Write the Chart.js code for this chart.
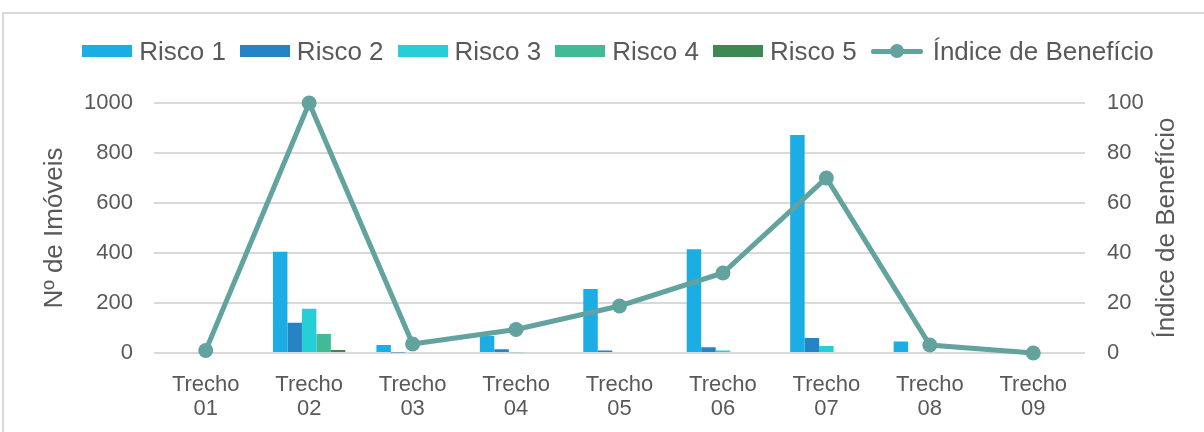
<!DOCTYPE html>
<html>
<head>
<meta charset="utf-8">
<script src="https://cdn.jsdelivr.net/npm/chart.js@4"></script>
<style>
  body { margin: 0; background: #fff; overflow: hidden; font-family: 'Liberation Sans', Arial, sans-serif; }
  #wrap { position: relative; width: 1204px; height: 432px; }
  #frame { position: absolute; left: 2px; top: 12px; width: 1300px; height: 500px; border-top: 2px solid #d9d9d9; border-left: 2px solid #d9d9d9; }
  #legend { position: absolute; left: 0; top: 35px; width: 1204px; display: flex; justify-content: center; padding-left: 32px; box-sizing: border-box; }
  .item { display: flex; align-items: center; margin: 0 7px; font-size: 26px; color: #595959; line-height: 32px; }
  .box { width: 50px; height: 12px; margin-right: 7px; }
  .lineSample { position: relative; width: 52px; height: 14px; margin-right: 10px; }
  .lineSample .l { position: absolute; left: 0; right: 0; top: 5px; height: 5px; border-radius: 2px; }
  .lineSample .p { position: absolute; left: 19px; top: 0; width: 14px; height: 14px; border-radius: 50%; }
  #chartBox { position: absolute; left: 0; top: 0; width: 1204px; height: 432px; }
</style>
</head>
<body>
<div id="wrap">
  <div id="frame"></div>
  <div id="chartBox"><canvas id="grafico"></canvas></div>
  <div id="legend"></div>
</div>
<script>
var trechos = [['Trecho', '01'], ['Trecho', '02'], ['Trecho', '03'], ['Trecho', '04'], ['Trecho', '05'],
  ['Trecho', '06'], ['Trecho', '07'], ['Trecho', '08'], ['Trecho', '09']];

// nº de imóveis por classe de risco
var risco1 = [0, 405, 32, 68, 256, 415, 872, 46, 0];
var risco2 = [0, 121, 2, 15, 10, 23, 60, 0, 0];
var risco3 = [0, 177, 0, 3, 0, 10, 28, 0, 0];
var risco4 = [0, 76, 0, 0, 0, 0, 0, 0, 0];
var risco5 = [0, 12, 0, 0, 0, 0, 0, 0, 0];

// índice de benefício (eixo da direita)
var indice = [1, 100, 3.6, 9.4, 18.8, 32, 70, 3.2, 0];

var ticksEsq = [0, 200, 400, 600, 800, 1000];
var ticksDir = [0, 20, 40, 60, 80, 100];

var cinza = '#595959';
var fonte = "'Liberation Sans', Arial, sans-serif";

function barras(label, data, cor) {
  return {
    type: 'bar',
    label: label,
    data: data,
    backgroundColor: cor,
    borderWidth: 0,
    yAxisID: 'y',
    order: 2,
  };
}

const data = {
  labels: trechos,
  datasets: [
    barras('Risco 1', risco1, '#1CADE4'),
    barras('Risco 2', risco2, '#2683C6'),
    barras('Risco 3', risco3, '#27CED7'),
    barras('Risco 4', risco4, '#42BA97'),
    barras('Risco 5', risco5, '#3E8853'),
    {
      type: 'line',
      label: 'Índice de Benefício',
      data: indice,
      borderColor: '#62A39F',
      backgroundColor: '#62A39F',
      borderWidth: 5,
      pointRadius: 7.5,
      pointBorderWidth: 0,
      tension: 0,
      clip: false,
      yAxisID: 'y1',
      order: 1,
    },
  ],
};

// título do eixo da direita, lido de baixo para cima
const tituloDireita = {
  id: 'tituloDireita',
  afterDraw: function (chart) {
    var ctx = chart.ctx;
    var area = chart.chartArea;
    ctx.save();
    ctx.translate(1167, (area.top + area.bottom) / 2);
    ctx.rotate(-Math.PI / 2);
    ctx.font = '26px ' + fonte;
    ctx.fillStyle = cinza;
    ctx.textAlign = 'center';
    ctx.textBaseline = 'middle';
    ctx.fillText('Índice de Benefício', 0, 0);
    ctx.restore();
  },
};

const config = {
  data: data,
  options: {
    responsive: true,
    maintainAspectRatio: false,
    animation: false,
    layout: { padding: { top: 103, left: 0, right: 0, bottom: 0 } },
    datasets: { bar: { categoryPercentage: 0.7, barPercentage: 1 } },
    plugins: { legend: { display: false }, tooltip: { enabled: false } },
    scales: {
      x: {
        grid: { display: false },
        border: { display: false },
        ticks: { color: cinza, font: { family: fonte, size: 22, lineHeight: 1.1 }, padding: 12, maxRotation: 0 },
        afterFit: function (s) { s.height = 79; },
      },
      y: {
        position: 'left',
        min: 0,
        max: 1000,
        afterBuildTicks: function (s) { s.ticks = ticksEsq.map(function (v) { return { value: v }; }); },
        grid: { color: '#d9d9d9', lineWidth: 2, drawTicks: false },
        border: { display: false },
        ticks: { color: cinza, font: { family: fonte, size: 22 }, padding: 21, callback: function (v) { return String(v); } },
        title: { display: true, text: 'Nº de Imóveis', color: cinza, font: { family: fonte, size: 26 }, padding: { top: 39, bottom: 0 } },
        afterFit: function (s) { s.width = 154; },
      },
      y1: {
        position: 'right',
        min: 0,
        max: 100,
        afterBuildTicks: function (s) { s.ticks = ticksDir.map(function (v) { return { value: v }; }); },
        grid: { display: false, drawTicks: false },
        border: { display: false },
        ticks: { color: cinza, font: { family: fonte, size: 22 }, padding: 22, callback: function (v) { return String(v); } },
        afterFit: function (s) { s.width = 119; },
      },
    },
  },
  plugins: [tituloDireita],
};

var grafico = new Chart(document.getElementById('grafico'), config);

// legenda montada a partir dos datasets
var legenda = document.getElementById('legend');
grafico.data.datasets.forEach(function (ds) {
  var item = document.createElement('div');
  item.className = 'item';
  var amostra;
  if (ds.type === 'line') {
    amostra = document.createElement('div');
    amostra.className = 'lineSample';
    amostra.innerHTML = '<div class="l" style="background:' + ds.borderColor + '"></div>' +
      '<div class="p" style="background:' + ds.borderColor + '"></div>';
  } else {
    amostra = document.createElement('div');
    amostra.className = 'box';
    amostra.style.background = ds.backgroundColor;
  }
  item.appendChild(amostra);
  item.appendChild(document.createTextNode(ds.label));
  legenda.appendChild(item);
});
</script>
</body>
</html>
